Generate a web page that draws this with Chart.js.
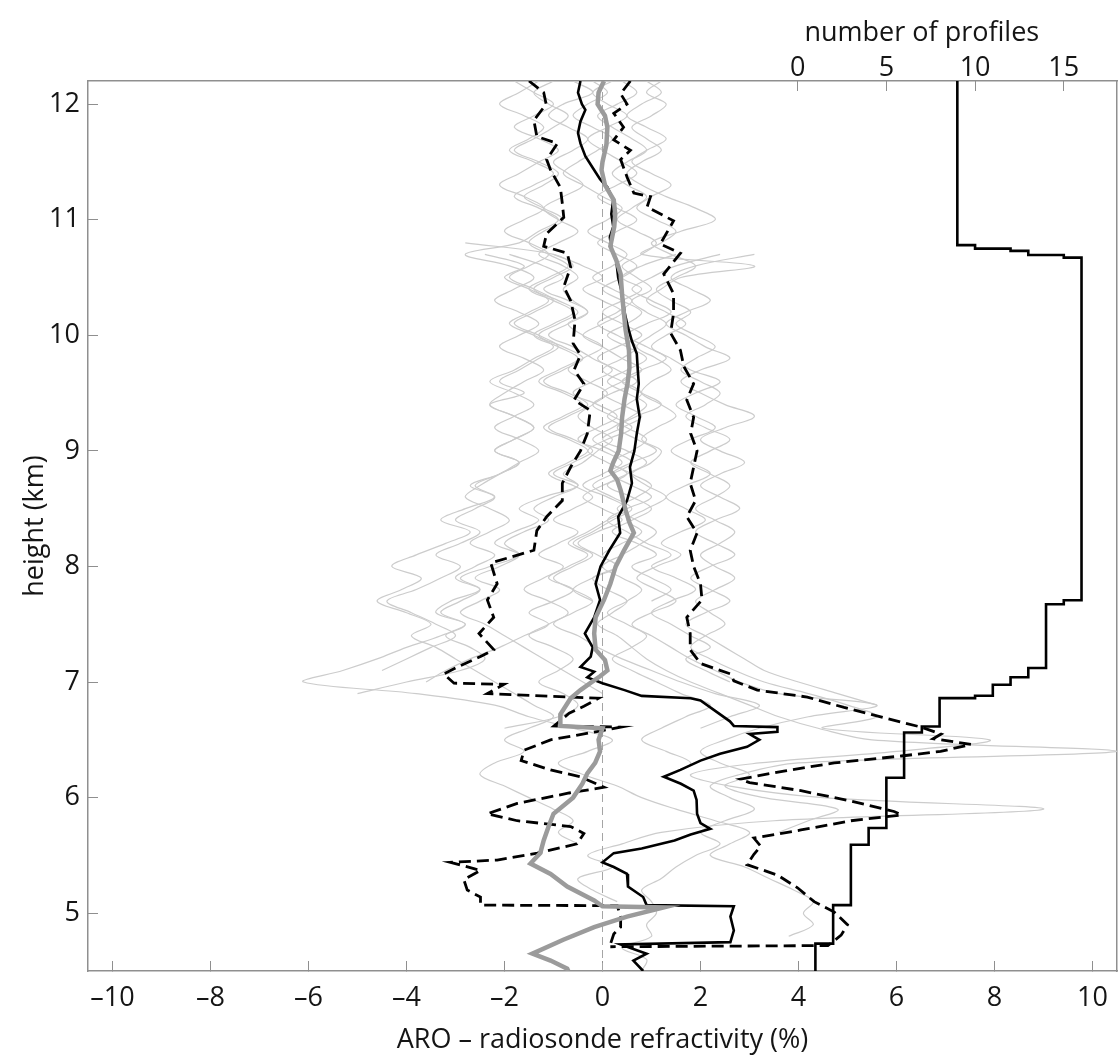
<!DOCTYPE html>
<html>
<head>
<meta charset="utf-8">
<script src="https://cdn.jsdelivr.net/npm/chart.js@4.4.1/dist/chart.umd.min.js"></script>
<style>
  html, body { margin: 0; padding: 0; background: #fff; }
  #wrap { width: 1118px; height: 1057px; position: relative; }
</style>
</head>
<body>
<div id="wrap"><canvas id="chart"></canvas></div>
<script>
// tick values
const xTicks = [-10, -8, -6, -4, -2, 0, 2, 4, 6, 8, 10];
const profileTicks = [0, 5, 10, 15];
const yTicks = [5, 6, 7, 8, 9, 10, 11, 12];

// mean difference (solid black)
const meanKm = [12.2, 12.1, 12.0, 11.95, 11.85, 11.75, 11.66, 11.55, 11.45, 11.35, 11.28, 11.17, 11.05, 10.94, 10.85, 10.75, 10.65, 10.5, 10.36, 10.2,
  10.07, 9.95, 9.84, 9.7, 9.58, 9.45, 9.29, 9.15, 9.0, 8.86, 8.72, 8.57, 8.43, 8.29, 8.14, 8.0, 7.85, 7.71, 7.56, 7.42,
  7.3, 7.22, 7.13, 7.09, 7.04, 6.99, 6.93, 6.88, 6.86, 6.84, 6.75, 6.66, 6.62, 6.61, 6.57, 6.55, 6.5, 6.44, 6.38, 6.32,
  6.24, 6.18, 6.12, 6.06, 5.98, 5.86, 5.78, 5.73, 5.68, 5.63, 5.56, 5.52, 5.44, 5.4, 5.34, 5.23, 5.14, 5.07, 5.06, 4.97,
  4.85, 4.75, 4.73, 4.65, 4.59, 4.5];
const meanPct = [-0.45, -0.5, -0.42, -0.35, -0.45, -0.5, -0.45, -0.35, -0.2, -0.05, 0.1, 0.22, 0.18, 0.22, 0.15, 0.18, 0.28, 0.32, 0.4, 0.45,
  0.52, 0.6, 0.7, 0.72, 0.74, 0.7, 0.76, 0.7, 0.65, 0.56, 0.6, 0.5, 0.32, 0.36, 0.14, -0.04, -0.14, -0.05, -0.17, -0.36,
  -0.2, -0.24, -0.45, -0.17, -0.31, 0.0, 0.45, 0.8, 1.8, 2.0, 2.3, 2.6, 2.68, 3.57, 3.57, 3.0, 3.2, 2.95, 2.4, 2.0,
  1.59, 1.25, 1.6, 1.86, 1.92, 1.93, 2.0, 2.2, 1.8, 1.47, 0.8, 0.23, 0.0, 0.23, 0.5, 0.52, 0.83, 0.9, 2.68, 2.61,
  2.68, 2.61, 0.37, 0.9, 0.63, 0.83];

// median difference (thick grey)
const medianKm = [12.2, 12.1, 12.0, 11.9, 11.8, 11.65, 11.5, 11.43, 11.3, 11.17, 11.05, 10.94, 10.77, 10.65, 10.53, 10.35, 10.22, 10.05, 9.87, 9.72,
  9.58, 9.45, 9.29, 9.15, 9.0, 8.9, 8.83, 8.75, 8.66, 8.49, 8.38, 8.29, 8.14, 8.0, 7.85, 7.71, 7.56, 7.42, 7.28, 7.19,
  7.1, 7.05, 6.99, 6.93, 6.86, 6.72, 6.62, 6.6, 6.5, 6.4, 6.3, 6.21, 6.12, 6.0, 5.86, 5.75, 5.63, 5.52, 5.43, 5.34,
  5.23, 5.11, 5.06, 5.05, 4.97, 4.88, 4.77, 4.65, 4.59, 4.52, 4.5];
const medianPct = [0.03, -0.08, -0.1, 0.05, 0.1, 0.08, 0.0, -0.02, 0.05, 0.23, 0.26, 0.24, 0.16, 0.28, 0.37, 0.4, 0.43, 0.47, 0.54, 0.55,
  0.51, 0.45, 0.4, 0.38, 0.33, 0.22, 0.16, 0.3, 0.37, 0.47, 0.55, 0.64, 0.44, 0.27, 0.16, 0.03, -0.14, -0.17, -0.14, 0.05,
  0.1, -0.05, -0.25, -0.45, -0.65, -0.86, -0.86, 0.0, -0.08, -0.05, -0.15, -0.31, -0.41, -0.6, -1.0, -1.1, -1.2, -1.27, -1.47, -1.06,
  -0.72, -0.17, 0.0, 1.25, 0.5, -0.17, -0.8, -1.43, -1.06, -0.72, -0.7];

// mean minus one standard deviation (left dashed)
const lowerKm = [12.2, 12.1, 12.0, 11.86, 11.72, 11.66, 11.52, 11.43, 11.28, 11.14, 11.02, 10.88, 10.77, 10.71, 10.59, 10.42, 10.3, 10.13, 9.93, 9.83,
  9.7, 9.58, 9.44, 9.35, 9.15, 9.0, 8.86, 8.72, 8.57, 8.43, 8.31, 8.14, 8.03, 7.85, 7.71, 7.56, 7.42, 7.28, 7.22, 7.13,
  7.07, 6.99, 6.98, 6.9, 6.86, 6.79, 6.73, 6.62, 6.61, 6.58, 6.5, 6.41, 6.32, 6.24, 6.18, 6.09, 6.04, 5.95, 5.86, 5.8,
  5.75, 5.69, 5.6, 5.52, 5.46, 5.44, 5.37, 5.29, 5.2, 5.14, 5.07, 5.065, 4.97, 4.88, 4.82, 4.73, 4.71];
const lowerPct = [-1.5, -1.2, -1.15, -1.4, -1.34, -0.92, -1.14, -1.06, -0.86, -0.82, -0.79, -1.14, -1.2, -0.72, -0.65, -0.79, -0.65, -0.56, -0.6, -0.45,
  -0.58, -0.38, -0.58, -0.25, -0.31, -0.45, -0.65, -0.82, -0.82, -1.14, -1.34, -1.4, -2.28, -2.15, -2.35, -2.22, -2.52, -2.22, -2.49, -2.96,
  -3.24, -3.03, -2.01, -2.35, -0.08, -0.38, -0.68, -0.99, 0.37, 0.0, -1.06, -1.6, -1.66, -1.06, -0.45, 0.03, -0.68, -1.74, -2.35, -1.74,
  -0.65, -0.38, -0.52, -1.33, -2.15, -3.1, -2.49, -2.83, -2.76, -2.49, -2.49, 0.3, 0.37, 0.37, 0.23, 0.16, 0.16];

// mean plus one standard deviation (right dashed)
const upperKm = [12.2, 12.09, 12.0, 11.92, 11.8, 11.69, 11.6, 11.52, 11.37, 11.23, 11.2, 11.11, 10.99, 10.79, 10.71, 10.53, 10.36, 10.19, 10.02, 9.87,
  9.73, 9.58, 9.44, 9.29, 9.15, 9.0, 8.86, 8.72, 8.57, 8.43, 8.29, 8.14, 8.0, 7.85, 7.71, 7.56, 7.42, 7.28, 7.16, 7.07,
  7.01, 6.93, 6.87, 6.78, 6.69, 6.61, 6.55, 6.51, 6.46, 6.4, 6.36, 6.3, 6.23, 6.16, 6.13, 6.06, 5.97, 5.88, 5.85, 5.8,
  5.72, 5.65, 5.58, 5.51, 5.42, 5.33, 5.22, 5.1, 5.01, 4.9, 4.81, 4.72, 4.71];
const upperPct = [0.57, 0.37, 0.5, 0.23, 0.43, 0.23, 0.57, 0.37, 0.5, 0.64, 0.98, 0.91, 1.45, 1.18, 1.59, 1.25, 1.45, 1.45, 1.39, 1.59,
  1.66, 1.86, 1.72, 1.86, 1.8, 1.93, 1.86, 1.79, 1.9, 1.72, 1.93, 1.79, 1.86, 2.0, 2.03, 1.72, 1.79, 1.79, 2.0, 2.61,
  2.68, 3.16, 4.18, 4.93, 5.75, 6.5, 6.91, 6.75, 7.52, 6.9, 6.1, 4.73, 3.7, 2.81, 3.0, 4.05, 5.07, 5.95, 6.1, 5.07,
  4.05, 3.09, 3.23, 3.09, 2.95, 3.57, 3.98, 4.32, 4.73, 5.0, 4.87, 4.6, 0.16];

// number of profiles (top axis), value below each change height
const stairKm = [12.2, 10.78, 10.75, 10.73, 10.695, 10.672, 7.707, 7.673, 7.122, 7.041, 6.977, 6.882, 6.861, 6.615, 6.563, 6.172, 5.737, 5.592, 5.07, 4.737, 4.5];
const stairCount = [9, 10, 12, 13, 15, 16, 15, 14, 13, 12, 11, 10, 8, 7, 6, 5, 4, 3, 2, 1, 1];

// individual profiles (thin grey), sampled every 0.1 km
const heightsKm = [12.2, 12.1, 12.0, 11.9, 11.8, 11.7, 11.6, 11.5, 11.4, 11.3, 11.2, 11.1, 11.0, 10.9, 10.8, 10.7, 10.6, 10.5, 10.4, 10.3,
  10.2, 10.1, 10.0, 9.9, 9.8, 9.7, 9.6, 9.5, 9.4, 9.3, 9.2, 9.1, 9.0, 8.9, 8.8, 8.7, 8.6, 8.5, 8.4, 8.3,
  8.2, 8.1, 8.0, 7.9, 7.8, 7.7, 7.6, 7.5, 7.4, 7.3, 7.2, 7.1, 7.0, 6.9, 6.8, 6.7, 6.6, 6.5, 6.4, 6.3,
  6.2, 6.1, 6.0, 5.9, 5.8, 5.7, 5.6, 5.5, 5.4, 5.3, 5.2, 5.1, 5.0, 4.9, 4.8, 4.7, 4.6, 4.5];
const grayStart = [0, 0, 0, 0, 0, 0, 0, 0, 0, 14, 15, 15, 15, 15, 15, 15];
const profA = [0.4, 0.7, 0.3, -0.1, 0.2, 0.6, 0.9, 0.5, 0.2, 0.5, 0.9, 0.6, 0.3, 0.7, 1.1, 0.8, 0.4, 0.7, 1.0, 0.6,
  0.9, 1.3, 1.0, 0.7, 1.1, 1.4, 1.0, 0.8, 1.2, 1.5, 1.1, 0.8, 1.2, 1.0, 0.6, 0.9, 1.3, 0.9, 0.5, 0.8,
  0.4, 0.0, 0.3, -0.2, 0.1, 0.5, 0.2, -0.1, 0.3, 0.6, 0.9, 1.3, 1.8, 2.4, 3.0, 3.6, 4.4, 5.5, 10.5, 4.0,
  2.8, 2.2, 2.6, 3.1, 2.5, 2.0, 2.4, 1.9, 1.5, 1.2, 0.8, 1.0, 1.1, 0.9, 1.0, 0.4, 0.9, 0.8];
const profB = [-0.6, -0.2, -0.8, -1.1, -0.7, -0.3, -0.6, -1.0, -0.7, -0.4, -0.8, -1.2, -0.9, -0.5, -0.9, -1.3, -0.8, -0.5, -0.8, -0.6,
  -0.3, -0.7, -0.4, 0.0, -0.4, -0.7, -0.3, 0.1, -0.2, -0.5, -0.2, 0.2, -0.1, -0.4, -0.8, -0.5, -1.0, -1.4, -1.1, -1.6,
  -2.0, -1.7, -2.3, -2.9, -2.5, -3.1, -3.4, -2.8, -3.3, -4.0, -4.6, -5.3, -6.1, -3.8, -2.2, -1.5, -0.6, 0.2, -0.3, -0.9,
  -0.4, 0.3, 0.8, 1.5, 2.3, 3.0, 2.6, 2.2, 2.9, 3.4, 3.9, 4.3, 4.1, 4.3, 3.8];
const profC = [1.2, 0.9, 1.3, 1.0, 0.6, 0.9, 1.2, 0.8, 0.5, 0.8, 1.3, 1.9, 2.3, 1.6, 1.0, 1.4, 1.9, 1.5, 1.1, 1.4,
  1.8, 1.5, 1.9, 2.3, 1.9, 1.6, 2.0, 2.4, 2.1, 1.7, 2.1, 2.6, 2.2, 1.8, 2.2, 2.6, 2.3, 1.9, 2.3, 2.7,
  2.4, 2.0, 2.3, 2.7, 2.3, 1.9, 2.2, 2.5, 2.1, 1.8, 2.2, 2.7, 3.3, 4.2, 5.0, 5.6, 4.5, 7.9, 6.0, 3.2,
  1.8, 2.6, 4.5, 9.0, 3.5, 1.2, 0.4, -0.3, 0.2, -0.5, -0.2, 0.3];
const profD = [-1.3, -1.7, -2.1, -1.6, -1.2, -1.5, -1.9, -1.4, -1.0, -1.4, -1.8, -1.3, -0.9, -1.3, -1.7, -2.8, -1.9, -1.4, -1.8, -2.2,
  -1.7, -1.3, -1.7, -2.1, -1.6, -1.2, -1.6, -2.0, -2.3, -1.8, -1.4, -1.8, -2.2, -1.7, -2.1, -2.6, -2.2, -2.8, -3.3, -2.7,
  -3.2, -3.8, -4.3, -3.7, -4.1, -4.6, -4.0, -3.5, -3.9, -3.4, -3.0, -2.6, -2.2, -1.8, -1.4, -1.0, -1.5, -2.0, -1.6, -2.2,
  -2.5, -2.0, -1.5, -1.0, -0.6, -0.9, -0.5];
const profE = [0.9, 1.2, 0.8, 0.5, 0.9, 1.3, 0.9, 0.6, 1.0, 1.4, 1.0, 0.7, 1.1, 1.5, 1.2, 0.8, 3.1, 1.6, 1.2, 0.9,
  1.3, 1.7, 1.3, 1.0, 1.4, 1.8, 2.4, 1.9, 1.5, 1.9, 2.3, 1.8, 1.4, 1.8, 2.2, 1.7, 1.3, 1.7, 2.1, 1.6,
  1.2, 1.6, 1.1, 0.7, 1.1, 1.5, 1.0, 0.6, 1.0, 1.4, 1.8, 2.3, 2.8, 3.6, 5.6, 4.2, 3.2, 2.5, 2.0, 2.4,
  3.0, 2.5, 3.3, 4.8, 4.2, 3.6];
const profF = [-0.2, 0.1, -0.3, -0.6, -0.2, 0.2, -0.1, -0.5, -0.8, -0.4, 0.0, 0.4, 0.1, -0.3, 0.1, 0.5, 0.2, -0.2, 0.2, 0.6,
  0.3, -0.1, 0.3, 0.7, 0.4, 0.0, 0.4, 0.8, 0.5, 0.1, 0.5, 0.9, 0.6, 0.2, 0.6, 1.0, 0.7, 0.3, 0.7, 1.1,
  0.8, 0.4, 0.0, 0.4, 0.8, 0.5, 0.1, 0.5, 0.9, 0.6, 0.2, 0.6, 1.1, 1.6, 2.2, 1.7, 1.2, 0.8, 1.3, 1.8,
  1.4];
const profG = [-1.0, -1.4, -1.1, -0.7, -1.0, -1.4, -1.8, -1.3, -0.9, -1.2, -1.6, -1.2, -0.8, -1.2, -1.5, -1.1, -0.7, -1.1, -1.5, -1.0,
  -0.6, -1.0, -1.4, -0.9, -0.5, -0.9, -1.3, -0.8, -0.4, -0.8, -1.2, -0.7, -0.3, -0.7, -1.1, -0.6, -0.2, -0.6, -1.0, -0.5,
  -0.9, -1.3, -0.8, -1.2, -1.6, -1.1, -0.7, -1.1, -1.5, -1.0, -0.6, -0.9, -1.3, -0.8, -0.5, -0.9, -2.0];
const profH = [0.2, -0.2, 0.1, 0.5, 0.1, -0.3, 0.0, 0.4, 0.7, 0.3, -0.1, 0.3, 0.7, 0.3, -0.1, 0.3, 0.7, 0.4, 0.0, 0.4,
  0.8, 0.5, 0.1, 0.5, 0.9, 0.5, 0.1, 0.5, 0.9, 0.6, 0.2, -0.2, 0.2, 0.6, 0.2, -0.2, 0.2, 0.6, 0.2, -0.2,
  -0.6, -0.2, -0.6, -1.0, -0.6, -0.2, -0.6, -1.0, -0.5, -0.1, 0.4, 1.0, 1.6, 2.3, 3.2, 2.6, 2.0];
const profI = [-1.8, -1.4, -1.0, -1.4, -1.8, -1.3, -0.9, -1.3, -1.7, -2.1, -1.6, -1.2, -1.6, -2.0, -1.5, -1.1, -1.5, -1.9, -1.4, -1.0,
  -1.4, -1.8, -1.3, -0.9, -1.3, -1.7, -2.1, -1.6, -2.3, -1.8, -1.4, -1.8, -2.2, -1.7, -2.1, -2.5, -2.8, -2.3, -1.9, -2.3,
  -2.7, -2.2, -2.6, -3.0, -2.5, -2.9, -3.3, -2.8, -3.2, -2.7, -2.4, -2.9, -4.0, -5.0];
const profJ = [-2.8, -1.0, -0.6, -1.0, -1.4, -0.9,
  -0.5, -0.9, -1.3, -0.8, -0.4, -0.8, -1.2, -0.7, -0.3, -0.7, -1.1, -0.6, -0.2, -0.6, -1.0, -0.5, -1.2, -1.7, -1.3, -1.8,
  -2.2, -1.7, -2.1, -2.6, -2.1, -2.5, -2.9, -2.4, -2.0, -1.6, -1.2, -0.8, -0.4, 0.0];
const profK = [3.1, 1.9, 1.4, 1.8, 2.2,
  1.7, 1.3, 1.7, 2.1, 2.6, 2.0, 1.6, 2.0, 2.5, 3.1, 2.5, 2.0, 2.4, 2.9, 2.4, 2.0, 2.4, 2.8, 2.3, 1.9,
  2.3, 2.7, 2.2, 1.8, 2.2, 2.6, 2.1, 1.7, 2.1, 2.5, 2.9, 3.3, 4.0, 4.8, 5.6];
const profL = [-1.9, -1.2, -0.8, -1.2, -0.7,
  -0.3, -0.7, -1.1, -0.6, -0.2, 0.2, -0.2, -0.6, -0.1, 0.3, -0.1, -0.5, 0.0, 0.4, 0.0, -0.4, 0.1, 0.5, 0.1, -0.3,
  -0.7, -0.3, -0.7, -1.1, -0.6, -1.0, -1.5, -1.1, -1.6, -2.1, -2.7, -3.2, -3.6];
const profM = [2.4, 1.5, 1.0, 0.6, 1.0,
  1.4, 0.9, 0.5, 0.9, 1.3, 0.8, 0.4, 0.8, 1.2, 0.7, 0.3, 0.7, 1.1, 0.6, 0.2, 0.6, 1.0, 0.5, 0.1, 0.5,
  0.9, 1.4, 1.0, 1.5, 1.9, 1.4, 1.0, 1.4, 1.8, 2.2, 1.7, 2.1, 2.6];
const profN = [-2.4, -1.6, -2.0, -1.5, -1.1,
  -1.5, -1.9, -1.4, -1.0, -1.4, -1.8, -2.3, -1.8, -1.4, -1.8, -2.2, -1.7, -1.3, -1.7, -2.1, -2.7, -2.2, -2.6, -3.0, -2.5,
  -2.9, -3.4, -2.9, -3.3, -3.8, -4.4, -3.9, -3.4, -3.0, -3.5, -4.0, -4.5];
const profO = [1.5, 0.8, 0.4, 0.8, 0.4,
  0.0, 0.4, 0.8, 0.3, -0.1, 0.3, 0.7, 0.2, -0.2, 0.2, 0.6, 0.1, -0.3, 0.1, 0.5, 0.0, -0.4, 0.0, 0.4, -0.1,
  -0.5, -0.1, 0.3, -0.2, -0.6, -0.2];
const profP = [-1.0, -0.4, 0.0, -0.4, 0.0,
  0.4, 0.0, -0.4, 0.0, 0.4, 0.8, 0.4, 0.0, 0.4, 0.8, 0.4, 0.0, 0.5, 0.9, 0.5, 0.1, 0.6, 1.0, 0.6, 0.2,
  0.7, 1.1, 0.6, 1.0, 1.4, 1.0];
const grayProfiles = [profA, profB, profC, profD, profE, profF, profG, profH, profI, profJ, profK, profL, profM, profN, profO, profP];

const FONT = "'Open Sans', 'DejaVu Sans', sans-serif";
const FONT_SIZE = 27;
Chart.defaults.font.family = FONT;
Chart.defaults.font.size = FONT_SIZE;
Chart.defaults.color = '#151515';

const AXIS_GREY = '#8f8f8f';

function toPoints(kms, vals) {
  return vals.map((v, i) => ({ x: v, y: kms[i] }));
}

function dashFmt(v) {
  return v < 0 ? '\u2013' + Math.abs(v) : String(v);
}

// the tick padding would otherwise shrink the plot sideways
function noSidePadding(s) {
  s.paddingLeft = 0; s.paddingRight = 0; s.paddingTop = 0; s.paddingBottom = 0;
}

// first dataset in the list is drawn on top
const datasets = [
  { data: toPoints(medianKm, medianPct), borderColor: '#9b9b9b', borderWidth: 4.5 },
  { data: toPoints(meanKm, meanPct), borderColor: '#000', borderWidth: 2.6 },
  { data: toPoints(lowerKm, lowerPct), borderColor: '#000', borderWidth: 2.8, borderDash: [12, 6] },
  { data: toPoints(upperKm, upperPct), borderColor: '#000', borderWidth: 2.8, borderDash: [12, 6] },
  { data: toPoints(stairKm, stairCount), xAxisID: 'x2', borderColor: '#000', borderWidth: 2.6, stepped: 'after' },
  { data: [{ x: 0, y: 4.5 }, { x: 0, y: 12.2 }], borderColor: '#a5a5a5', borderWidth: 1, borderDash: [8, 5] }
];
grayProfiles.forEach((vals, k) => {
  datasets.push({
    data: vals.map((v, i) => ({ x: v, y: heightsKm[grayStart[k] + i] })),
    borderColor: '#cccccc',
    borderWidth: 1.2,
    tension: 0.35
  });
});
datasets.forEach(ds => { ds.showLine = true; ds.pointRadius = 0; ds.pointHoverRadius = 0; });

// label for the top axis, centred over its tick labels
const profilesTitle = {
  id: 'profilesTitle',
  afterDraw(chart) {
    const { ctx, scales } = chart;
    ctx.save();
    ctx.font = FONT_SIZE + 'px ' + FONT;
    ctx.fillStyle = '#151515';
    ctx.textAlign = 'center';
    ctx.textBaseline = 'middle';
    ctx.fillText('number of profiles', scales.x2.getPixelForValue(7), 33);
    ctx.restore();
  }
};

const gridOpts = { drawOnChartArea: false, tickLength: -10, tickColor: AXIS_GREY, tickWidth: 1 };
const borderOpts = { color: AXIS_GREY, width: 1.5 };

new Chart(document.getElementById('chart'), {
  type: 'scatter',
  data: { datasets },
  options: {
    responsive: true,
    maintainAspectRatio: false,
    animation: false,
    layout: { padding: 0 },
    plugins: { legend: { display: false }, tooltip: { enabled: false } },
    elements: { line: { tension: 0 } },
    scales: {
      x: {
        type: 'linear', position: 'bottom', min: -10.5, max: 10.5,
        afterBuildTicks: s => { s.ticks = xTicks.map(v => ({ value: v })); },
        ticks: { padding: 21, callback: v => dashFmt(v) },
        grid: gridOpts, border: borderOpts,
        title: { display: true, text: 'ARO \u2013 radiosonde refractivity (%)', padding: { top: 0, bottom: 0 } },
        afterFit: s => { s.height = 86; noSidePadding(s); }
      },
      x2: {
        type: 'linear', position: 'top', min: -40, max: 18,
        afterBuildTicks: s => { s.ticks = profileTicks.map(v => ({ value: v })); },
        ticks: { padding: 6 },
        grid: gridOpts, border: borderOpts,
        afterFit: s => { s.height = 81; noSidePadding(s); }
      },
      y: {
        type: 'linear', position: 'left', min: 4.5, max: 12.2,
        afterBuildTicks: s => { s.ticks = yTicks.map(v => ({ value: v })); },
        ticks: { padding: 18 },
        grid: gridOpts, border: borderOpts,
        title: { display: true, text: 'height (km)', padding: { top: 19, bottom: 0 } },
        afterFit: s => { s.width = 88; noSidePadding(s); }
      },
      y2: {
        type: 'linear', position: 'right', min: 4.5, max: 12.2,
        ticks: { display: false },
        grid: { drawOnChartArea: false, drawTicks: false },
        border: borderOpts,
        afterFit: s => { s.width = 1; noSidePadding(s); }
      }
    }
  },
  plugins: [profilesTitle]
});
</script>
</body>
</html>
